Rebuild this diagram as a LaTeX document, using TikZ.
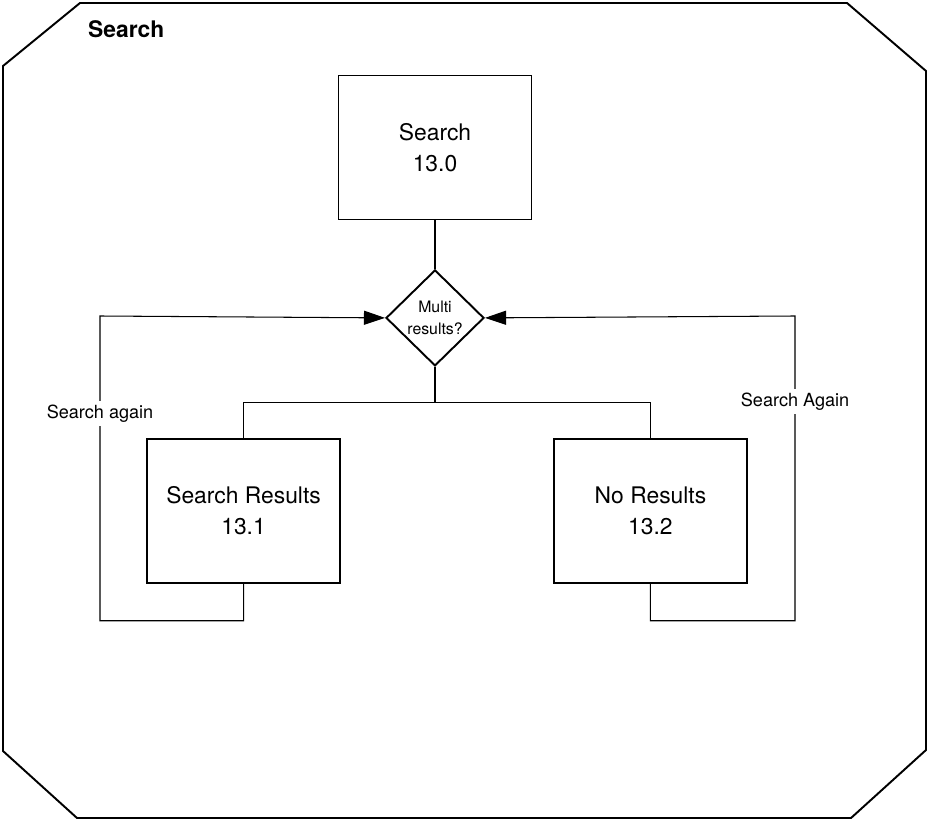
\documentclass[tikz,border=0pt]{standalone}
\usepackage{fontspec}
\setmainfont{TeX Gyre Heros}
\usepackage{tikz}
\usetikzlibrary{shapes.geometric, arrows.meta, positioning, calc}
\tikzset{
    process/.style={
        rectangle,
        draw=black,
        line width=1.1pt,
        minimum width=3.86cm,
        minimum height=2.88cm,
        fill=white,
        align=center,
        font=\fontsize{13}{18}\selectfont
    },
    decision/.style={
        diamond,
        draw=black,
        line width=1.1pt,
        minimum width=1.96cm,
        minimum height=1.92cm,
        inner sep=0pt,
        fill=white,
        align=center,
        font=\fontsize{9}{12.3}\selectfont
    },
    frame/.style={
        draw=black,
        line width=1.1pt
    },
    frametitle/.style={
        font=\fontsize{13}{15}\selectfont\bfseries
    },
    link/.style={
        draw=black,
        line width=0.6pt
    },
    backlink/.style={
        draw=black,
        line width=0.6pt,
        -{Triangle[length=12pt, width=8pt]}
    },
    looplabel/.style={
        fill=white,
        inner sep=2pt,
        font=\fontsize{10.3}{12}\selectfont
    }
}

\begin{document}
\begin{tikzpicture}[x=0.02cm, y=0.02cm]
\useasboundingbox (0,0) rectangle (928,-820);

% Outer frame
\draw[frame] (80,-3) -- (847,-3) -- (926,-71) -- (926,-750) -- (851,-818)
    -- (77,-818) -- (3,-751) -- (3,-66) -- cycle;
\node[frametitle, anchor=west] (title) at (82,-29) {Search};

% Processes
\node[process] (search) at (435,-147.5) {Search\\13.0};
\node[decision, below=0.97cm of search] (multi) {Multi\\results?};
\node[process, below=1.42cm of multi, xshift=-3.83cm] (results) {Search Results\\13.1};
\node[process, below=1.42cm of multi, xshift=4.31cm] (noresults) {No Results\\13.2};

% Loop corners
\coordinate (loopL) at (100,-316);
\coordinate (loopR) at (795,-316);

% Connections
\draw[link] (search) -- (multi);
\draw[link] (multi.south) -- ++(0,-36) -| (results.north);
\draw[link] (multi.south) -- ++(0,-36) -| (noresults.north);

% Search again loops
\draw[backlink] (results.south) -- ++(0,-37) -| node[looplabel, pos=0.84] {Search again} (loopL) -- (multi.west);
\draw[backlink] (noresults.south) -- ++(0,-37) -| node[looplabel, pos=0.86] {Search Again} (loopR) -- (multi.east);

\end{tikzpicture}
\end{document}
